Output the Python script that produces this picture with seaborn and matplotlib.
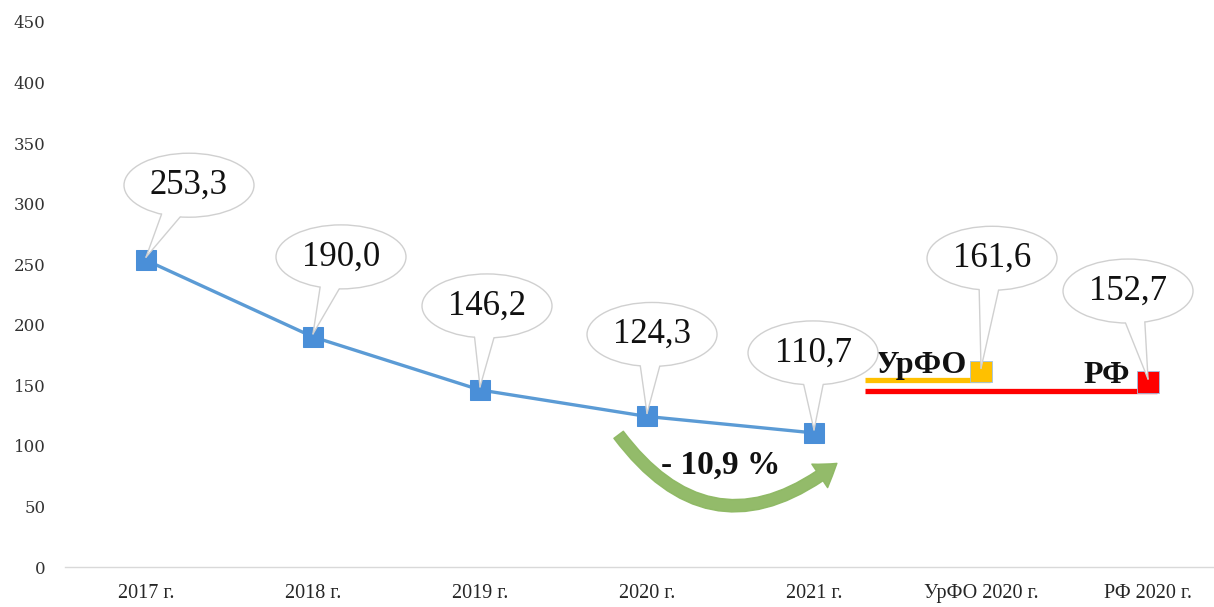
import numpy as np
import pandas as pd
import matplotlib
matplotlib.use("Agg")
import matplotlib.pyplot as plt
import seaborn as sns
from matplotlib.patches import Ellipse, Polygon, FancyArrowPatch
from matplotlib.lines import Line2D
from matplotlib.transforms import IdentityTransform

# ---- data ----
years = ["2017 г.", "2018 г.", "2019 г.", "2020 г.", "2021 г."]
year_values = [253.3, 190.0, 146.2, 124.3, 110.7]
region_labels = ["УрФО 2020 г.", "РФ 2020 г."]
region_values = [161.6, 152.7]
region_names = ["УрФО", "РФ"]
change_text = "- 10,9 %"
categories = years + region_labels
y_ticks = [0, 50, 100, 150, 200, 250, 300, 350, 400, 450]

# ---- style ----
sns.set_theme(style="white")
plt.rcParams['font.family'] = ['Liberation Serif', 'DejaVu Serif']

fig = plt.figure(figsize=(12.14, 6.07), dpi=100)
ax = fig.add_axes([65 / 1214, 40 / 607, 1149 / 1214, 545 / 607])
ax.set_xlim(-0.485, 6.395)
ax.set_ylim(0, 450)

blue = "#5B9BD5"
df = pd.DataFrame({"pos": np.arange(len(years)), "value": year_values})
sns.lineplot(data=df, x="pos", y="value", ax=ax, color=blue, lw=2.4,
             marker="s", markersize=15, markerfacecolor="#4A8FD8",
             markeredgecolor="#4A8FD8", zorder=4)

# regional comparison lines and markers
reg_pos = [len(years), len(years) + 1]
reg_colors = ["#FFC000", "#FF0000"]
line_start = 4.305
for p, v, c in zip(reg_pos, region_values, reg_colors):
    ax.plot([line_start, p + 0.055], [v - 7.0, v - 7.0], color=c, lw=3.8,
            solid_capstyle="butt", zorder=3)
rdf = pd.DataFrame({"pos": reg_pos, "value": region_values, "c": region_names})
sns.scatterplot(data=rdf, x="pos", y="value", hue="c", palette=reg_colors,
                marker="s", s=240, edgecolor="#9DC3E6", linewidth=0.6,
                legend=False, ax=ax, zorder=4)

ax.text(4.64, 166, region_names[0], fontsize=23, fontweight="bold",
        ha="center", va="center", color="#111111", zorder=9)
ax.text(5.75, 158, region_names[1], fontsize=23, fontweight="bold",
        ha="center", va="center", color="#111111", zorder=9)

# axes cosmetics
for s in ["left", "right", "top"]:
    ax.spines[s].set_visible(False)
ax.spines["bottom"].set_color("#D9D9D9")
ax.spines["bottom"].set_linewidth(1.0)
ax.set_xticks(range(len(categories)))
ax.set_xticklabels(categories, fontsize=14.5, color="#262626")
ax.set_yticks(y_ticks)
ax.set_yticklabels([str(t) for t in y_ticks], fontsize=12,
                   family=["DejaVu Serif"], color="#333333")
ax.tick_params(axis="x", length=0, pad=12)
ax.tick_params(axis="y", length=0, pad=14)
ax.set_xlabel("")
ax.set_ylabel("")
ax.grid(False)

# ---- callouts ----
all_pos = list(range(len(years))) + reg_pos
all_vals = year_values + region_values
offsets = [(43, -75), (28, -80), (7, -84), (5, -82), (-1, -80), (11, -113), (-20, -91)]
W, H = 130, 64
for p, v, (dx, dy) in zip(all_pos, all_vals, offsets):
    mx, my = ax.transData.transform((p, v))
    cx, cy = mx + dx, my - dy
    tipx, tipy = mx, my + 3
    ell = Ellipse((cx, cy), W, H, transform=IdentityTransform(),
                  facecolor="white", edgecolor="#D0D0D0", lw=1.0, zorder=6)
    fig.add_artist(ell)
    th = np.arctan2((tipy - cy) / (H / 2), (tipx - cx) / (W / 2))
    b = []
    for t in (th - 0.15, th + 0.15):
        b.append((cx + W / 2 * np.cos(t), cy + H / 2 * np.sin(t)))
    bi = [(cx + 0.93 * (x - cx), cy + 0.93 * (y - cy)) for x, y in b]
    poly = Polygon([bi[0], b[0], (tipx, tipy), b[1], bi[1]], closed=True,
                   transform=IdentityTransform(), facecolor="white",
                   edgecolor="none", zorder=7)
    fig.add_artist(poly)
    for x, y in b:
        fig.add_artist(Line2D([x, tipx], [y, tipy], transform=IdentityTransform(),
                              color="#D0D0D0", lw=1.0, zorder=7))
    fig.text(cx / fig.dpi / fig.get_figwidth(), cy / fig.dpi / fig.get_figheight(),
             f"{v:.1f}".replace(".", ","), fontsize=25, ha="center", va="center",
             color="#111111", zorder=8)

# ---- change arrow ----
arrow = FancyArrowPatch((2.82, 111), (4.15, 87),
                        connectionstyle="arc3,rad=0.52",
                        arrowstyle="simple,head_length=0.9,head_width=1.2,tail_width=0.5",
                        mutation_scale=17, color="#8DB862", alpha=0.95, zorder=5)
ax.add_patch(arrow)
ax.text(3.44, 84, change_text, fontsize=24, fontweight="bold",
        ha="center", va="center", color="#111111", zorder=9)

fig.savefig("out.png", dpi=100)
